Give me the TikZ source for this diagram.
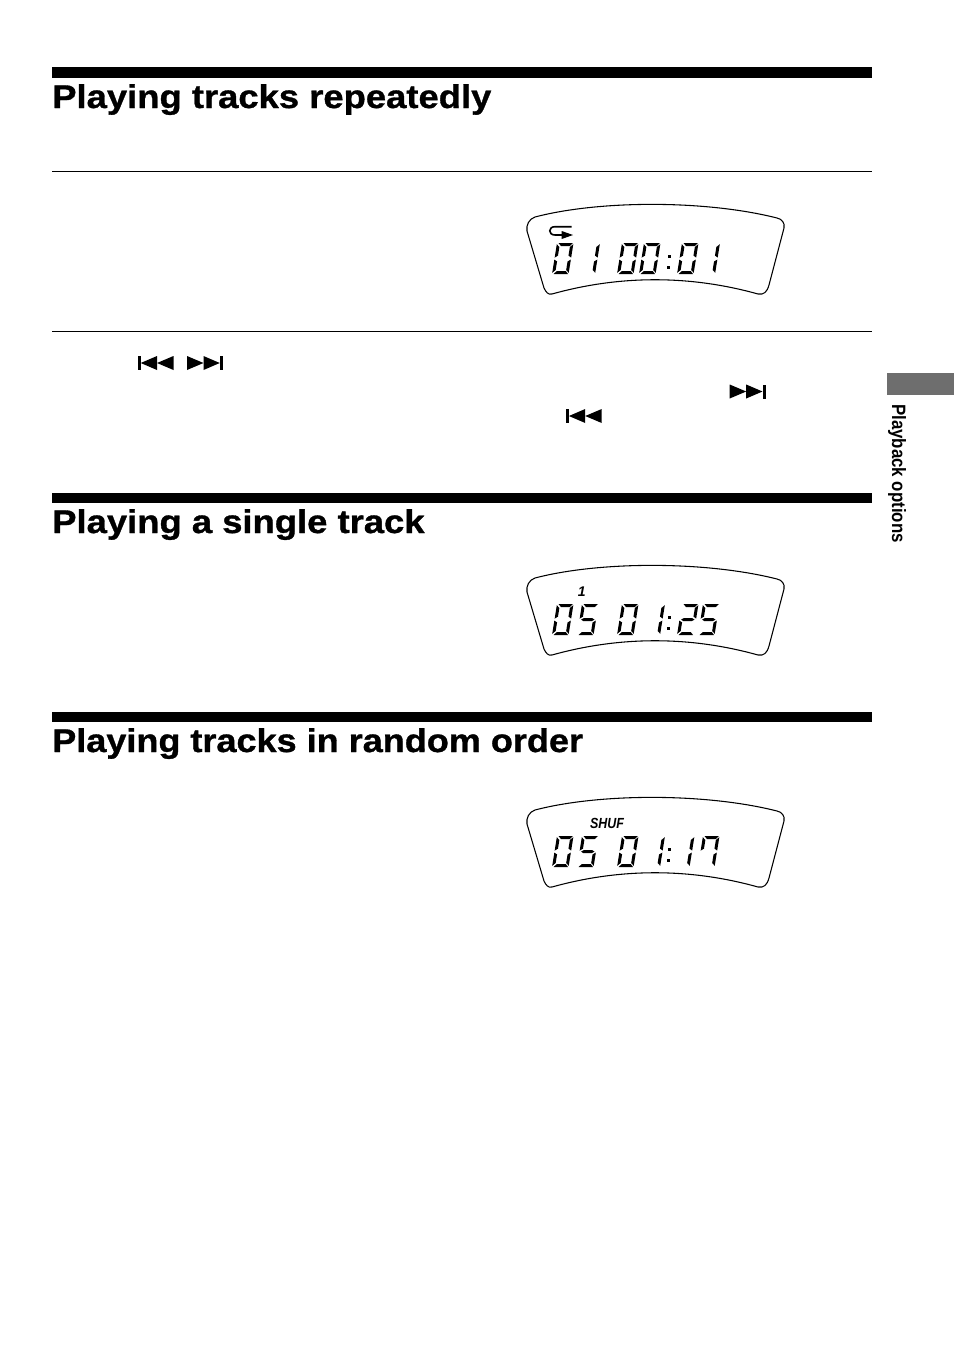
\documentclass[tikz,border=0pt]{standalone}
\usepackage{fontspec}
\setmainfont{Liberation Sans}
\newfontfamily\headfont[FakeStretch=1.11,FakeBold=1]{Liberation Sans}
\usetikzlibrary{positioning}
\definecolor{tabgray}{HTML}{6E6E6E}

% LCD segments of one digit, 16.5 wide and 31 high
\newcommand{\sega}{\fill (1.5,0) -- (16,0) -- (13.2,3) -- (4.4,3) -- cycle;}
\newcommand{\segb}{\fill (16.5,1.2) -- (16.5,14.6) -- (13.5,12.6) -- (13.5,4) -- cycle;}
\newcommand{\segc}{\fill (16.5,16.6) -- (16.5,29.8) -- (13.5,27) -- (13.5,18.4) -- cycle;}
\newcommand{\segd}{\fill (1.5,31) -- (16,31) -- (13.2,28) -- (4.4,28) -- cycle;}
\newcommand{\sege}{\fill (0,16.6) -- (3,18.4) -- (3,27) -- (0,29.8) -- cycle;}
\newcommand{\segf}{\fill (0,1.2) -- (3,4) -- (3,12.6) -- (0,14.6) -- cycle;}
\newcommand{\segg}{\fill (1.6,15.6) -- (4,14.1) -- (12.5,14.1) -- (15,15.6) -- (12.5,17.1) -- (4,17.1) -- cycle;}

\tikzset{
	headtext/.style={anchor=base west, inner sep=0, font=\headfont\bfseries\fontsize{24.6}{28}\selectfont},
	panel/.style={draw, line width=.8pt, line join=round},
	pics/lcddigit/.style={code={
		\begin{scope}[xslant=.16]
			\foreach \s in #1 {\csname seg\s\endcsname}
		\end{scope}
	}},
	pics/previcon/.style={code={
		\fill (0,-7) rectangle (3.2,7);
		\fill (3.2,0) -- (19.5,-7) -- (19.5,7) -- cycle;
		\fill (19.5,0) -- (36,-7) -- (36,7) -- cycle;
	}},
	pics/nexticon/.style={code={
		\fill (0,-7) rectangle (-3.2,7);
		\fill (-3.2,0) -- (-19.5,-7) -- (-19.5,7) -- cycle;
		\fill (-19.5,0) -- (-36,-7) -- (-36,7) -- cycle;
	}},
	pics/lcdpanel/.style={code={
		\draw[panel] (535,217) .. controls (600,200) and (706,200) .. (777,218)
			.. controls (782,219) and (785,223) .. (784,228) -- (769,285)
			.. controls (767,292) and (764,295) .. (758,294)
			.. controls (690,275) and (620,275) .. (552,294)
			.. controls (548,295) and (546,292) .. (544,288) -- (527,231)
			.. controls (526,225) and (529,219) .. (535,217) -- cycle;
	}},
	pics/lcdcolon/.style={code={
		\fill (668,255) rectangle +(3,3);
		\fill (666.5,265.5) rectangle +(3,3);
	}}
}

\begin{document}
\begin{tikzpicture}[x=.75pt, y=-.75pt]
	\useasboundingbox [fill=white] (0,0) rectangle (954,1357);

	% Bars and rules
	\fill (52,67) rectangle (872,78);
	\fill (52,493) rectangle (872,503);
	\fill (52,712) rectangle (872,722);
	\draw [line width=.6pt] (52,171) -- (872,171);
	\draw [line width=.6pt] (52,331) -- (872,331);

	% Headings
	\node [headtext] (repeathead) at (52,108) {Playing tracks repeatedly};
	\node [headtext] (singlehead) at (52,533) {Playing a single track};
	\node [headtext, transform shape, xscale=.99] (randomhead) at (52,752) {Playing tracks in random order};

	% Side tab
	\fill [tabgray] (887,373) rectangle (954,395);
	\node [rotate=-90, inner sep=0, transform shape, xscale=.87, font=\bfseries\fontsize{14.5}{16}\selectfont] (sidetab) at (897,473.5) {Playback options};

	% Button icons
	\path (137.5,363) pic {previcon};
	\path (223,363) pic {nexticon};
	\path (765.7,391.5) pic {nexticon};
	\path (565.7,416) pic {previcon};

	% Panel {01 00:01}
	\path (0,0) pic {lcdpanel};
	\draw [line width=1.2pt] (571.7,226.7) -- (555,226.7) .. controls (548,226.7) and (548,235) .. (555,235) -- (565,235);
	\fill (573,235) -- (561.7,231) -- (561.7,239) -- cycle;
	\foreach \x/\segs in {557/{a,b,c,d,e,f}, 583.5/{b,c}, 622/{a,b,c,d,e,f}, 644/{a,b,c,d,e,f}, 682/{a,b,c,d,e,f}, 703.5/{b,c}}
		\path (\x,243) pic {lcddigit={\segs}};
	\path (0,0) pic {lcdcolon};

	% Panel {05 01:25}
	\begin{scope}[shift={(0,361)}]
		\path (0,0) pic {lcdpanel};
		\node [inner sep=0, font=\itshape\bfseries\fontsize{10.5}{12}\selectfont] (singlemark) at (581.7,230.7) {1};
		\foreach \x/\segs in {557/{a,b,c,d,e,f}, 582/{a,f,g,c,d}, 622/{a,b,c,d,e,f}, 648.5/{b,c}, 682/{a,b,g,e,d}, 703/{a,f,g,c,d}}
			\path (\x,243) pic {lcddigit={\segs}};
		\path (0,0) pic {lcdcolon};
	\end{scope}

	% Panel {05 01:17}
	\begin{scope}[shift={(0,593)}]
		\path (0,0) pic {lcdpanel};
		\node [inner sep=0, transform shape, xscale=.85, font=\itshape\bfseries\fontsize{11}{13}\selectfont] (shufmark) at (607,230) {SHUF};
		\foreach \x/\segs in {557/{a,b,c,d,e,f}, 582/{a,f,g,c,d}, 622/{a,b,c,d,e,f}, 648.5/{b,c}, 678/{b,c}, 703/{a,b,c,f}}
			\path (\x,243) pic {lcddigit={\segs}};
		\path (0,0) pic {lcdcolon};
	\end{scope}
\end{tikzpicture}
\end{document}
